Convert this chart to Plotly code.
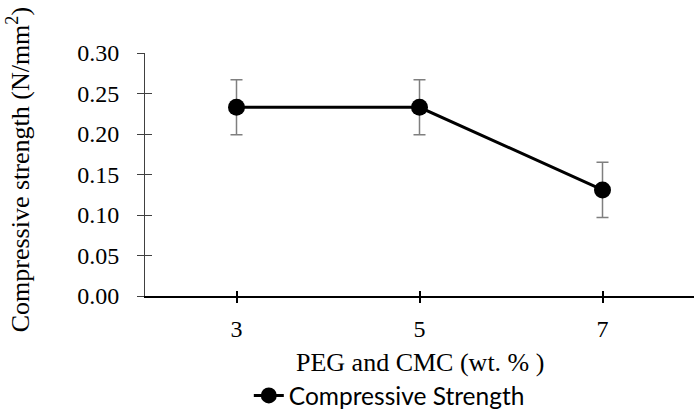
import plotly.graph_objects as go

categories = ["3", "5", "7"]
strength = [0.233, 0.233, 0.131]
errors = [0.034, 0.034, 0.034]
y_ticks = [0.0, 0.05, 0.10, 0.15, 0.20, 0.25, 0.30]
y_tick_labels = ["0.00", "0.05", "0.10", "0.15", "0.20", "0.25", "0.30"]

serif = "Liberation Serif"

fig = go.Figure()
fig.add_trace(go.Scatter(
    x=categories, y=strength, mode="lines+markers",
    name="Compressive Strength",
    line=dict(color="black", width=3),
    marker=dict(color="black", size=17),
    error_y=dict(type="data", array=errors, visible=True,
                 color="#7f7f7f", thickness=1.5, width=6),
))
# invisible trace on overlay axes to render crossing ticks
fig.add_trace(go.Scatter(x=categories, y=strength, xaxis="x2", yaxis="y2",
                         mode="markers", marker=dict(opacity=0), showlegend=False,
                         hoverinfo="skip"))

fig.update_layout(
    width=694, height=418,
    margin=dict(l=145, r=0, t=53, b=116),
    paper_bgcolor="white", plot_bgcolor="white",
    font=dict(family=serif, color="black", size=24),
    showlegend=True,
    legend=dict(orientation="h", x=0.445, xanchor="center", y=-0.41, yanchor="middle",
                font=dict(family="Lato", size=24.5, color="black")),
    xaxis=dict(type="category", range=[-0.5, 2.5], showline=True, linecolor="black",
               linewidth=2, ticks="outside", ticklen=5, tickcolor="black", tickwidth=1.5,
               showgrid=False, zeroline=False, tickfont=dict(family=serif, size=24),
               ticklabelstandoff=5),
    yaxis=dict(range=[0, 0.30], tickvals=y_ticks, ticktext=y_tick_labels,
               showline=True, linecolor="#404040", linewidth=1, ticks="outside",
               ticklen=7, tickcolor="#404040", showgrid=False, zeroline=False,
               tickfont=dict(family=serif, size=24), ticklabelstandoff=13),
    xaxis2=dict(type="category", range=[-0.5, 2.5], overlaying="x", ticks="inside",
                ticklen=5, tickcolor="black", tickwidth=1.5, showticklabels=False,
                showline=False, showgrid=False, zeroline=False, side="bottom"),
    yaxis2=dict(range=[0, 0.30], tickvals=y_ticks, overlaying="y", ticks="inside",
                ticklen=7, tickcolor="#404040", showticklabels=False, showline=False,
                showgrid=False, zeroline=False),
    annotations=[
        dict(text="Compressive strength (N/mm<sup>2</sup>)", textangle=-90,
             xref="paper", yref="paper", x=-0.231, y=(302 - 173) / 249,
             xanchor="center", yanchor="middle", showarrow=False,
             font=dict(family=serif, size=26)),
        dict(text="PEG and CMC (wt. % )", xref="paper", yref="paper",
             x=0.5, y=-0.273, xanchor="center", yanchor="middle", showarrow=False,
             font=dict(family=serif, size=26)),
    ],
)

fig.write_html("out.html")
